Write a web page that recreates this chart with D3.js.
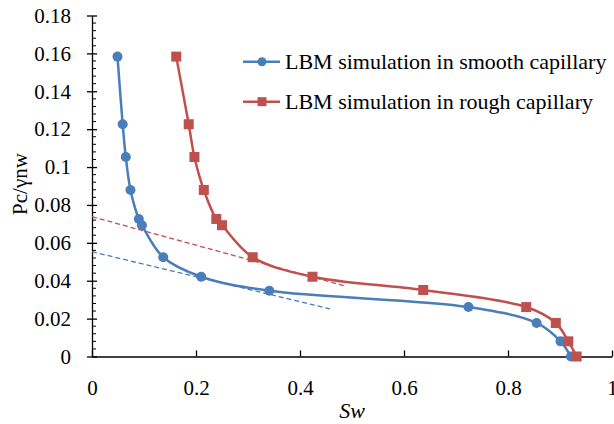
<!DOCTYPE html>
<html><head><meta charset="utf-8">
<script src="https://cdn.jsdelivr.net/npm/d3@7"></script>
<style>
body{margin:0;background:#fff}
svg{display:block}
svg text{font-family:"Liberation Serif","Times New Roman",serif;}
</style>
</head><body>
<svg id="chart" width="614" height="424"></svg>
<script>
const smoothSw = [0.049,0.059,0.065,0.074,0.090,0.096,0.137,0.210,0.341,0.724,0.855,0.901,0.921];
const smoothPc = [0.1583,0.1226,0.1053,0.0879,0.0726,0.0693,0.0524,0.0421,0.0347,0.0261,0.0177,0.0080,0.0];
const roughSw = [0.162,0.186,0.197,0.215,0.239,0.250,0.309,0.424,0.637,0.835,0.892,0.916,0.932];
const roughPc = [0.1583,0.1226,0.1053,0.0879,0.0726,0.0693,0.0524,0.0421,0.0351,0.0261,0.0177,0.0080,0.0];
const smoothTangentSw = [0, 0.458];
const smoothTangentPc = [0.0553, 0.0251];
const roughTangentSw = [0, 0.487];
const roughTangentPc = [0.0738, 0.0372];
const xTicks = [0,0.2,0.4,0.6,0.8,1];
const yTicks = [0,0.02,0.04,0.06,0.08,0.1,0.12,0.14,0.16,0.18];
const seriesNames = ["LBM simulation in smooth capillary","LBM simulation in rough capillary"];
const blue = "#4a7ebb", red = "#c0504d";

const svg = d3.select("#chart");
const x = d3.scaleLinear().domain([0,1]).range([92,612]);
const y = d3.scaleLinear().domain([0,0.18]).range([356.5,15.5]);

// y axis
const yAxis = d3.axisLeft(y).tickValues(yTicks).tickFormat(d=>String(+d.toFixed(2))).tickSizeInner(5).tickSizeOuter(0).tickPadding(16);
const gy = svg.append("g").attr("transform",`translate(${x(0)},0)`).call(yAxis);
gy.attr("font-family",null);
gy.selectAll(".tick line").attr("x1",5).attr("x2",-5).attr("stroke","#000").attr("stroke-width",1.3);
gy.selectAll("text").attr("font-size",21).attr("fill","#000");
gy.select(".domain").attr("stroke","#000").attr("stroke-width",1.3);
// minor ticks
const minor = d3.range(0,0.1801,0.004).filter(v=>Math.abs(v/0.02-Math.round(v/0.02))>1e-6);
svg.append("g").selectAll("line").data(minor).join("line")
  .attr("x1",x(0)).attr("x2",x(0)+4).attr("y1",d=>y(d)).attr("y2",d=>y(d))
  .attr("stroke","#000").attr("stroke-width",1);

// x axis
const xAxis = d3.axisBottom(x).tickValues(xTicks).tickFormat(d=>String(+d.toFixed(1))).tickSizeInner(-6).tickSizeOuter(0).tickPadding(24);
const gx = svg.append("g").attr("transform",`translate(0,${y(0)})`).call(xAxis);
gx.attr("font-family",null);
gx.selectAll("text").attr("font-size",21).attr("fill","#000");
gx.select(".domain").attr("stroke","#000").attr("stroke-width",1.3);
gx.selectAll(".tick line").attr("stroke","#000").attr("stroke-width",1.3);

// axis titles
svg.append("text").attr("transform","translate(27,184) rotate(-90)").attr("text-anchor","middle")
  .attr("font-size",21).text("Pc/γnw");
svg.append("text").attr("x",352).attr("y",418).attr("text-anchor","middle")
  .attr("font-size",22).attr("font-style","italic").text("Sw");

// dashed tangents
const line = d3.line().x(d=>x(d[0])).y(d=>y(d[1]));
svg.append("path").attr("d",line(d3.zip(roughTangentSw,roughTangentPc))).attr("fill","none")
  .attr("stroke",red).attr("stroke-width",1.3).attr("stroke-dasharray","5,3");
svg.append("path").attr("d",line(d3.zip(smoothTangentSw,smoothTangentPc))).attr("fill","none")
  .attr("stroke",blue).attr("stroke-width",1.3).attr("stroke-dasharray","5,3");

// curves
const curve = d3.line().x(d=>x(d[0])).y(d=>y(d[1])).curve(d3.curveCatmullRom.alpha(0.5));
const sData = d3.zip(smoothSw,smoothPc), rData = d3.zip(roughSw,roughPc);
svg.append("path").attr("d",curve(sData)).attr("fill","none").attr("stroke",blue).attr("stroke-width",2.5);
svg.append("path").attr("d",curve(rData)).attr("fill","none").attr("stroke",red).attr("stroke-width",2.5);
svg.append("g").selectAll("circle").data(sData).join("circle")
  .attr("cx",d=>x(d[0])).attr("cy",d=>y(d[1])).attr("r",5).attr("fill",blue);
svg.append("g").selectAll("rect").data(rData).join("rect")
  .attr("x",d=>x(d[0])-5).attr("y",d=>y(d[1])-5).attr("width",10).attr("height",10).attr("fill",red);

// legend
const lg = svg.append("g");
[[blue,61.7,"c"],[red,101.7,"s"]].forEach((e,i)=>{
  lg.append("line").attr("x1",243).attr("x2",280).attr("y1",e[1]).attr("y2",e[1]).attr("stroke",e[0]).attr("stroke-width",2.5);
  if(e[2]==="c") lg.append("circle").attr("cx",262).attr("cy",e[1]).attr("r",4.5).attr("fill",e[0]);
  else lg.append("rect").attr("x",257.5).attr("y",e[1]-4.5).attr("width",9).attr("height",9).attr("fill",e[0]);
  lg.append("text").attr("x",285).attr("y",e[1]+7.5).attr("font-size",22).attr("fill","#000").text(seriesNames[i]);
});
</script>
</body></html>
